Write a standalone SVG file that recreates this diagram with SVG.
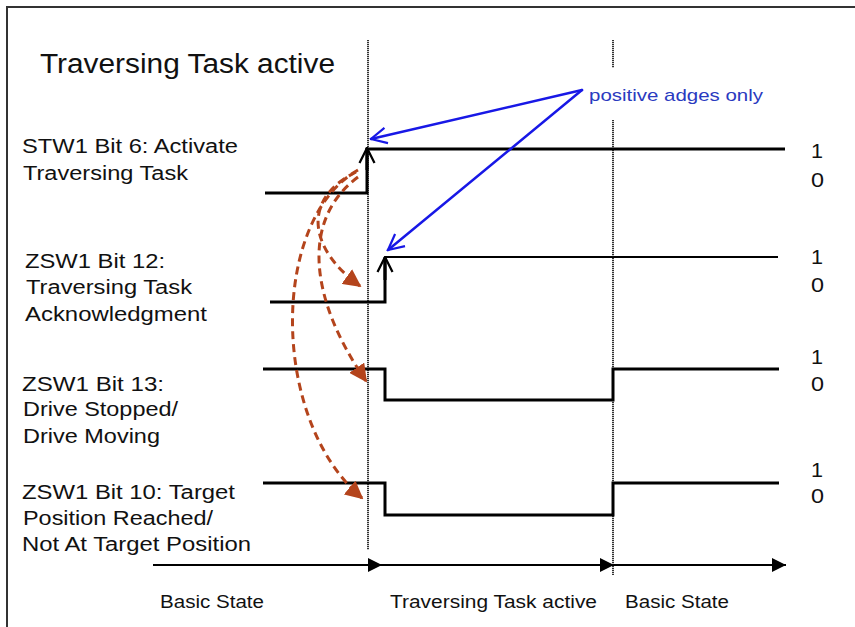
<svg xmlns="http://www.w3.org/2000/svg" width="855" height="627" viewBox="0 0 855 627">
<style>
text{font-family:"Liberation Sans",Arial,sans-serif;fill:#111}
.lbl{font-size:19.5px}
.bit{font-size:20px}
.sig{fill:none;stroke:#000;stroke-width:3;stroke-linejoin:miter}
.sig2{fill:none;stroke:#000;stroke-width:2.2}
.dot{stroke:#333;stroke-width:2;stroke-dasharray:1.2 0.8}
.blue{fill:none;stroke:#1818e6;stroke-width:2.5;stroke-linecap:round}
.red{fill:none;stroke:#b4441c;stroke-width:3;stroke-dasharray:8 5}
.axis{stroke:#000;stroke-width:2}
</style>
<defs>
<marker id="ra" viewBox="0 0 10 10" refX="9" refY="5" markerWidth="6" markerHeight="6" orient="auto" markerUnits="strokeWidth">
<path d="M0,0 L10,5 L0,10 Z" fill="#b4441c"/>
</marker>
<marker id="ba" viewBox="0 0 10 10" refX="10" refY="5" markerWidth="7" markerHeight="7" orient="auto" markerUnits="strokeWidth">
<path d="M0,0 L10,5 L0,10 Z" fill="#000"/>
</marker>
<marker id="bl" viewBox="0 0 12 12" refX="11" refY="6" markerWidth="7.5" markerHeight="7.5" orient="auto" markerUnits="strokeWidth">
<path d="M1,1 L11,6 L1,11" fill="none" stroke="#1818e6" stroke-width="1.4"/>
</marker>
<marker id="ka" viewBox="0 0 12 12" refX="11" refY="6" markerWidth="6" markerHeight="6" orient="auto" markerUnits="strokeWidth">
<path d="M1,1 L11,6 L1,11" fill="none" stroke="#000" stroke-width="1.5"/>
</marker>
</defs>
<rect width="855" height="627" fill="#fff"/>
<path d="M7,627 V7 H855" fill="none" stroke="#333" stroke-width="2"/>

<text x="40" y="73" font-size="27" textLength="295" lengthAdjust="spacingAndGlyphs">Traversing Task active</text>

<g id="guides">
<line class="dot" x1="368" y1="40" x2="368" y2="550"/>
<line class="dot" x1="613" y1="40" x2="613" y2="68"/>
<line class="dot" x1="613" y1="120" x2="613" y2="575"/>
</g>

<g id="stw1-bit6">
<text class="lbl" x="22" y="153" textLength="216" lengthAdjust="spacingAndGlyphs">STW1 Bit 6: Activate</text>
<text class="lbl" x="23" y="180" textLength="165" lengthAdjust="spacingAndGlyphs">Traversing Task</text>
<path class="sig" d="M265,193 H367 V149 H785"/>
<text class="bit" x="811" y="158" textLength="12" lengthAdjust="spacingAndGlyphs">1</text>
<text class="bit" x="811" y="187" textLength="13" lengthAdjust="spacingAndGlyphs">0</text>
</g>

<g id="zsw1-bit12">
<text class="lbl" x="25" y="268" textLength="140" lengthAdjust="spacingAndGlyphs">ZSW1 Bit 12:</text>
<text class="lbl" x="26" y="294" textLength="166" lengthAdjust="spacingAndGlyphs">Traversing Task</text>
<text class="lbl" x="25" y="321" textLength="182" lengthAdjust="spacingAndGlyphs">Acknowledgment</text>
<path class="sig" d="M270,302 H385 V258"/>
<path class="sig2" d="M385,257 H778"/>
<text class="bit" x="811" y="264" textLength="12" lengthAdjust="spacingAndGlyphs">1</text>
<text class="bit" x="811" y="292" textLength="13" lengthAdjust="spacingAndGlyphs">0</text>
</g>

<g id="zsw1-bit13">
<text class="lbl" x="22" y="391" textLength="142" lengthAdjust="spacingAndGlyphs">ZSW1 Bit 13:</text>
<text class="lbl" x="23" y="416" textLength="155" lengthAdjust="spacingAndGlyphs">Drive Stopped/</text>
<text class="lbl" x="23" y="443" textLength="137" lengthAdjust="spacingAndGlyphs">Drive Moving</text>
<path class="sig" d="M263,369 H385 V400 H613 V369 H779"/>
<text class="bit" x="811" y="364" textLength="12" lengthAdjust="spacingAndGlyphs">1</text>
<text class="bit" x="811" y="391" textLength="13" lengthAdjust="spacingAndGlyphs">0</text>
</g>

<g id="zsw1-bit10">
<text class="lbl" x="22" y="499" textLength="213" lengthAdjust="spacingAndGlyphs">ZSW1 Bit 10: Target</text>
<text class="lbl" x="23" y="525" textLength="190" lengthAdjust="spacingAndGlyphs">Position Reached/</text>
<text class="lbl" x="22" y="551" textLength="229" lengthAdjust="spacingAndGlyphs">Not At Target Position</text>
<path class="sig" d="M263,483 H385 V515 H613 V483 H779"/>
<text class="bit" x="811" y="477" textLength="12" lengthAdjust="spacingAndGlyphs">1</text>
<text class="bit" x="811" y="503" textLength="13" lengthAdjust="spacingAndGlyphs">0</text>
</g>

<g id="timeline">
<line class="axis" x1="153" y1="565" x2="382" y2="565" marker-end="url(#ba)"/>
<line class="axis" x1="380" y1="565" x2="614" y2="565" marker-end="url(#ba)"/>
<line class="axis" x1="612" y1="565" x2="786" y2="565" marker-end="url(#ba)"/>
<text x="160" y="608" font-size="17.5" textLength="104" lengthAdjust="spacingAndGlyphs">Basic State</text>
<text x="390" y="608" font-size="17.5" textLength="207" lengthAdjust="spacingAndGlyphs">Traversing Task active</text>
<text x="625" y="608" font-size="17.5" textLength="104" lengthAdjust="spacingAndGlyphs">Basic State</text>
</g>

<g id="note">
<text x="589" y="101" font-size="17" style="fill:#2a3ac0" textLength="174" lengthAdjust="spacingAndGlyphs">positive adges only</text>
</g>

<g id="connectors">
<path d="M367,170 V148" fill="none" stroke="#000" stroke-width="3" marker-end="url(#ka)"/>
<path d="M385,280 V257" fill="none" stroke="#000" stroke-width="3" marker-end="url(#ka)"/>
<path class="blue" d="M582,90 L371,139" marker-end="url(#bl)"/>
<path class="blue" d="M582,90 L388,250" marker-end="url(#bl)"/>
<path class="red" d="M356,172 C300,200 310,250 360,286" marker-end="url(#ra)"/>
<path class="red" d="M358,177 C300,220 310,300 366,381" marker-end="url(#ra)"/>
<path class="red" d="M358,170 C270,220 270,420 362,498" marker-end="url(#ra)"/>
</g>
</svg>
